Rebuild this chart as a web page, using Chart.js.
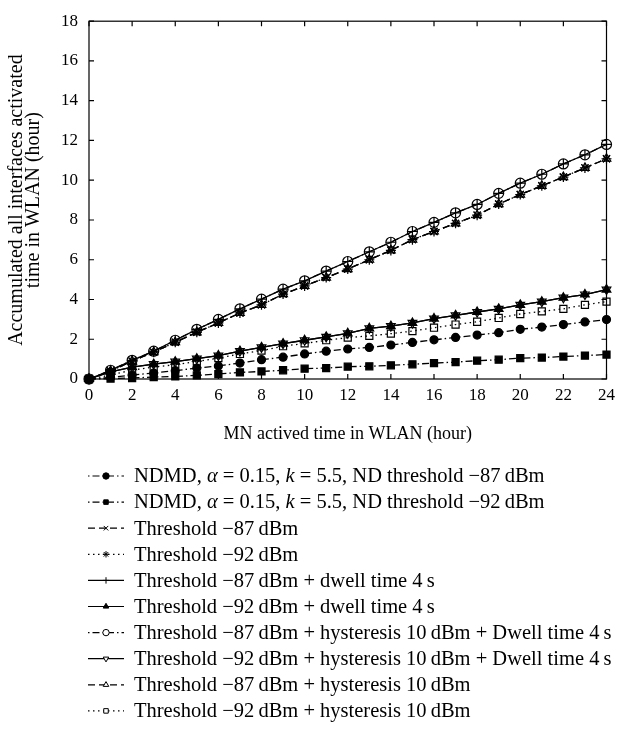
<!DOCTYPE html>
<html>
<head>
<meta charset="utf-8">
<script src="https://cdn.jsdelivr.net/npm/chart.js@4/dist/chart.umd.min.js"></script>
<style>
html, body { margin: 0; padding: 0; background: #fff; }
</style>
</head>
<body>
<canvas id="chart" width="621" height="734"></canvas>
<script>
var hours = [0, 1, 2, 3, 4, 5, 6, 7, 8, 9, 10, 11, 12, 13, 14, 15, 16, 17, 18, 19, 20, 21, 22, 23, 24];
var xTicks = [0, 2, 4, 6, 8, 10, 12, 14, 16, 18, 20, 22, 24];
var yTicks = [0, 2, 4, 6, 8, 10, 12, 14, 16, 18];

// NDMD curves
var ndmd87 = [0, 0.08, 0.2, 0.3, 0.42, 0.55, 0.66, 0.8, 0.97, 1.1, 1.26, 1.4, 1.51, 1.59, 1.71, 1.84, 1.97, 2.09, 2.21, 2.33, 2.5, 2.61, 2.74, 2.87, 2.99];
var ndmd92 = [0, 0.02, 0.05, 0.1, 0.13, 0.18, 0.25, 0.33, 0.38, 0.44, 0.52, 0.55, 0.62, 0.64, 0.69, 0.74, 0.8, 0.85, 0.92, 0.97, 1.05, 1.08, 1.13, 1.18, 1.23];
// plain thresholds (and -87 + hysteresis, which sits on top of them)
var thr87 = [0, 0.4, 0.9, 1.35, 1.85, 2.35, 2.82, 3.32, 3.73, 4.27, 4.68, 5.1, 5.53, 6.0, 6.47, 7.01, 7.42, 7.83, 8.24, 8.8, 9.28, 9.72, 10.16, 10.62, 11.08];
var thr92 = [0, 0.4, 0.9, 1.35, 1.85, 2.35, 2.82, 3.32, 3.73, 4.27, 4.68, 5.1, 5.53, 6.0, 6.47, 7.01, 7.42, 7.83, 8.24, 8.8, 9.28, 9.72, 10.16, 10.62, 11.08];
var hyst87 = [0, 0.4, 0.9, 1.35, 1.85, 2.35, 2.82, 3.32, 3.73, 4.27, 4.68, 5.1, 5.53, 6.0, 6.47, 7.01, 7.42, 7.83, 8.24, 8.8, 9.28, 9.72, 10.16, 10.62, 11.08];
// dwell time
var dwell87 = [0, 0.44, 0.94, 1.4, 1.95, 2.5, 3.0, 3.53, 4.02, 4.52, 4.94, 5.43, 5.91, 6.4, 6.88, 7.42, 7.88, 8.36, 8.78, 9.34, 9.85, 10.3, 10.82, 11.28, 11.8];
var dwell92 = [0, 0.36, 0.6, 0.75, 0.87, 1.02, 1.18, 1.4, 1.59, 1.78, 1.95, 2.12, 2.3, 2.55, 2.66, 2.82, 3.04, 3.2, 3.37, 3.53, 3.73, 3.89, 4.09, 4.25, 4.5];
var hystDwell87 = [0, 0.44, 0.94, 1.4, 1.95, 2.5, 3.0, 3.53, 4.02, 4.52, 4.94, 5.43, 5.91, 6.4, 6.88, 7.42, 7.88, 8.36, 8.78, 9.34, 9.85, 10.3, 10.82, 11.28, 11.8];
var hystDwell92 = [0, 0.36, 0.6, 0.75, 0.87, 1.02, 1.18, 1.4, 1.59, 1.78, 1.95, 2.12, 2.3, 2.55, 2.66, 2.82, 3.04, 3.2, 3.37, 3.53, 3.73, 3.89, 4.09, 4.25, 4.5];
var hyst92 = [0, 0.2, 0.45, 0.6, 0.72, 0.88, 1.05, 1.26, 1.43, 1.65, 1.79, 1.95, 2.08, 2.17, 2.28, 2.41, 2.58, 2.74, 2.88, 3.07, 3.27, 3.4, 3.53, 3.73, 3.89];

var labels = [
    "NDMD, α = 0.15, k = 5.5, ND threshold −87\u2009dBm",
    "NDMD, α = 0.15, k = 5.5, ND threshold −92\u2009dBm",
    "Threshold −87\u2009dBm",
    "Threshold −92\u2009dBm",
    "Threshold −87\u2009dBm + dwell time 4\u2009s",
    "Threshold −92\u2009dBm + dwell time 4\u2009s",
    "Threshold −87\u2009dBm + hysteresis 10\u2009dBm + Dwell time 4\u2009s",
    "Threshold −92\u2009dBm + hysteresis 10\u2009dBm + Dwell time 4\u2009s",
    "Threshold −87\u2009dBm + hysteresis 10\u2009dBm",
    "Threshold −92\u2009dBm + hysteresis 10\u2009dBm"
];

var SERIF = "'Liberation Serif', 'Times New Roman', serif";
var DASH_DOT = [7, 3, 1.5, 3];
var DASHED = [7, 4];
var DOTTED = [1.5, 3.5];

function series(label, values, style, dash, fill, radius, rotation) {
    return {
        "label": label,
        "data": values.map(function (v, i) { return { x: hours[i], y: v }; }),
        "borderColor": "#000",
        "borderWidth": 1.3,
        "borderDash": dash,
        "pointStyle": style,
        "pointRadius": radius,
        "pointRotation": rotation || 0,
        "pointBackgroundColor": fill,
        "pointBorderColor": "#000",
        "pointBorderWidth": 1.2,
        "fill": false,
        "tension": 0,
        "clip": false
    };
}

var datasets = [
    series(labels[0], ndmd87, "circle", DASH_DOT, "#000", 4),
    series(labels[1], ndmd92, "rect", DASH_DOT, "#000", 5),
    series(labels[2], thr87, "crossRot", DASHED, "#fff", 5),
    series(labels[3], thr92, "star", DOTTED, "#fff", 5),
    series(labels[4], dwell87, "cross", [], "#fff", 5),
    series(labels[5], dwell92, "triangle", [], "#000", 5),
    series(labels[6], hystDwell87, "circle", DASH_DOT, "rgba(0,0,0,0)", 5),
    series(labels[7], hystDwell92, "triangle", [], "rgba(0,0,0,0)", 5, 180),
    series(labels[8], hyst87, "triangle", DASHED, "rgba(0,0,0,0)", 5),
    series(labels[9], hyst92, "rect", DOTTED, "rgba(0,0,0,0)", 5)
];

// box around the plot with inward ticks on all four sides
var frameTicks = {
    "id": "frameTicks",
    "beforeDatasetsDraw": function (chart) {
        var ctx = chart.ctx, a = chart.chartArea, xs = chart.scales.x, ys = chart.scales.y;
        ctx.save();
        ctx.strokeStyle = "#000";
        ctx.lineWidth = 1.2;
        ctx.setLineDash([]);
        ctx.strokeRect(a.left, a.top, a.right - a.left, a.bottom - a.top);
        ctx.beginPath();
        xs.ticks.forEach(function (t) {
            var px = xs.getPixelForValue(t.value);
            ctx.moveTo(px, a.bottom); ctx.lineTo(px, a.bottom - 5);
            ctx.moveTo(px, a.top); ctx.lineTo(px, a.top + 5);
        });
        ys.ticks.forEach(function (t) {
            var py = ys.getPixelForValue(t.value);
            ctx.moveTo(a.left, py); ctx.lineTo(a.left + 5, py);
            ctx.moveTo(a.right, py); ctx.lineTo(a.right - 5, py);
        });
        ctx.stroke();
        ctx.restore();
    }
};

// legend below the plot: line sample with marker, text with italic α and k
var sampleLegend = {
    "id": "sampleLegend",
    "afterDraw": function (chart) {
        var ctx = chart.ctx;
        var top = chart.chartArea.bottom + 97;
        ctx.save();
        chart.data.datasets.forEach(function (ds, i) {
            var yy = top + i * 26.1;
            ctx.strokeStyle = "#000";
            ctx.lineWidth = 1.2;
            ctx.setLineDash(ds.borderDash);
            ctx.lineDashOffset = ds.borderDash.length === 4 ? 10 : 0;
            ctx.beginPath();
            ctx.moveTo(88, yy);
            ctx.lineTo(124, yy);
            ctx.stroke();
            ctx.setLineDash([]);
            ctx.lineDashOffset = 0;
            ctx.fillStyle = ds.pointBackgroundColor === "#000" ? "#000" : "#fff";
            ctx.lineWidth = 1;
            Chart.helpers.drawPoint(ctx, {
                pointStyle: ds.pointStyle,
                rotation: ds.pointRotation,
                radius: 3.2,
                borderWidth: 1
            }, 106, yy);
            ctx.fillStyle = "#000";
            ctx.textBaseline = "middle";
            ctx.textAlign = "left";
            var x = 134;
            ds.label.split(/(α|k(?= =))/).forEach(function (part) {
                if (!part) return;
                var italic = part === "α" || part === "k";
                ctx.font = (italic ? "italic " : "") + "20.5px " + SERIF;
                ctx.fillText(part, x, yy + 1);
                x += ctx.measureText(part).width;
            });
        });
        ctx.restore();
    }
};

new Chart(document.getElementById("chart").getContext("2d"), {
    "type": "line",
    "data": { "datasets": datasets },
    "options": {
        "responsive": false,
        "animation": false,
        "layout": { "padding": { "top": 14, "right": 10, "left": 0, "bottom": 285 } },
        "plugins": {
            "legend": { "display": false },
            "tooltip": { "enabled": false }
        },
        "scales": {
            "x": {
                "type": "linear",
                "min": 0,
                "max": 24,
                "afterBuildTicks": function (scale) {
                    scale.ticks = xTicks.map(function (v) { return { value: v }; });
                },
                "grid": { "display": false, "drawTicks": false },
                "border": { "display": false },
                "ticks": { "color": "#000", "padding": 6, "maxRotation": 0, "font": { "family": SERIF, "size": 17 } },
                "title": {
                    "display": true,
                    "text": "MN actived time in WLAN (hour)",
                    "color": "#000",
                    "font": { "family": SERIF, "size": 18 }
                },
                "afterFit": function (scale) { scale.height = 70; }
            },
            "y": {
                "type": "linear",
                "min": 0,
                "max": 18,
                "afterBuildTicks": function (scale) {
                    scale.ticks = yTicks.map(function (v) { return { value: v }; });
                },
                "grid": { "display": false, "drawTicks": false },
                "border": { "display": false },
                "ticks": { "color": "#000", "padding": 11, "font": { "family": SERIF, "size": 17 } },
                "title": {
                    "display": true,
                    "text": ["Accumulated all interfaces activated", "time in WLAN (hour)"],
                    "color": "#000",
                    "font": { "family": SERIF, "size": 20, "lineHeight": 0.85 },
                    "padding": { "top": 8, "bottom": 2 }
                },
                "afterFit": function (scale) { scale.width = 89; }
            }
        }
    },
    "plugins": [frameTicks, sampleLegend]
});
</script>
</body>
</html>
